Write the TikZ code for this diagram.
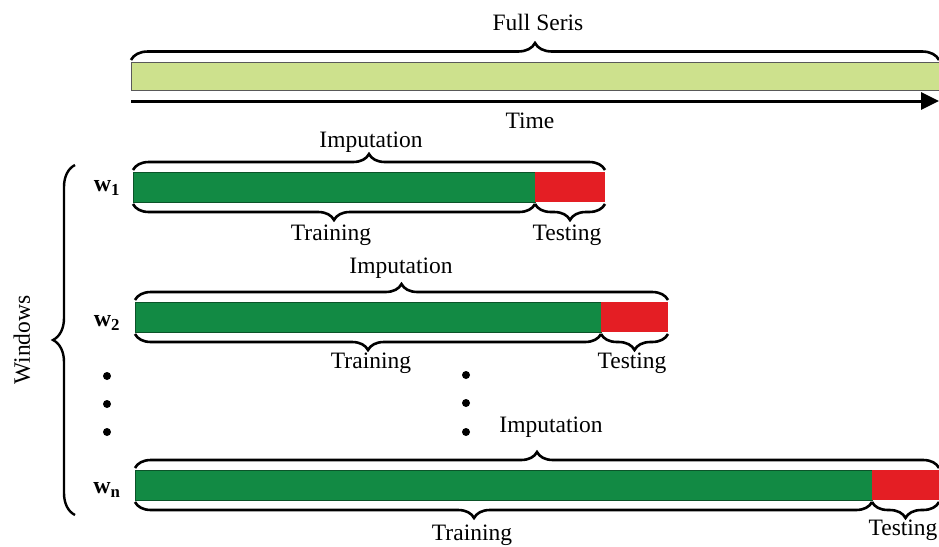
\documentclass[tikz,border=0pt]{standalone}
\usepackage{fontspec}
\setmainfont{Liberation Serif}
\usetikzlibrary{decorations.pathreplacing,arrows.meta}
\definecolor{lightbar}{RGB}{205,225,141}
\definecolor{trainbar}{RGB}{18,138,68}
\definecolor{testbar}{RGB}{228,30,36}
\begin{document}
\begin{tikzpicture}[x=1pt,y=-1pt,
  lbl/.style={font=\fontsize{23.5}{28}\selectfont, inner sep=0pt},
  wlbl/.style={font=\fontsize{24}{28}\selectfont\bfseries, inner sep=0pt},
  barbox/.style={rectangle, inner sep=0pt, outer sep=0pt, minimum height=30pt, anchor=north west},
  fullbox/.style={barbox, fill=lightbar, draw=gray!70!black, line width=0.8pt, minimum height=28pt},
  trainbox/.style={barbox, fill=trainbar, draw=trainbar!60!black, line width=0.8pt},
  testbox/.style={barbox, fill=testbar},
  brc/.style={decorate, decoration={brace, amplitude=16pt, raise=2pt}, line width=2.6pt},
  bigbrc/.style={decorate, decoration={brace, amplitude=22pt}, line width=2.4pt},
  dotnode/.style={circle, fill=black, inner sep=0pt, minimum size=8pt}
]
\useasboundingbox (0,0) rectangle (939,546);

% Full series
\node[fullbox, minimum width=808pt] (full) at (131,62) {};
\draw[brc, decoration={amplitude=17pt}] (full.north west) -- (full.north east);
\node[lbl] (fulltxt) at (538,22) {Full Seris};
\coordinate (tstart) at (131,101);
\coordinate (tend) at (939,101);
\draw[-{Triangle[length=18pt,width=17pt]}, line width=3pt] (tstart) -- (tend);
\node[lbl] (timetxt) at (530,121) {Time};

% Window 1
\node[trainbox, minimum width=402pt] (t1) at (133,172) {};
\node[testbox, minimum width=70pt] (s1) at (535,172) {};
\draw[brc] (t1.north west) -- (s1.north east);
\draw[brc] (t1.south east) -- (t1.south west);
\draw[brc] (s1.south east) -- (s1.south west);
\node[lbl] (imp1) at (371,142) {Imputation};
\node[lbl] (tr1) at (331,235) {Training};
\node[lbl] (te1) at (567,235) {Testing};
\node[wlbl] (w1) at (107,188) {w\textsubscript{1}};

% Window 2
\node[trainbox, minimum width=466pt] (t2) at (135,302) {};
\node[testbox, minimum width=67pt] (s2) at (601,302) {};
\draw[brc] (t2.north west) -- (s2.north east);
\draw[brc] (t2.south east) -- (t2.south west);
\draw[brc] (s2.south east) -- (s2.south west);
\node[lbl] (imp2) at (401,268) {Imputation};
\node[lbl] (tr2) at (371,363) {Training};
\node[lbl] (te2) at (632,363) {Testing};
\node[wlbl] (w2) at (107,323) {w\textsubscript{2}};

% Window n
\node[trainbox, minimum width=737pt] (tn) at (135,470) {};
\node[testbox, minimum width=67pt] (sn) at (872,470) {};
\draw[brc] (tn.north west) -- (sn.north east);
\draw[decorate, decoration={brace, mirror, amplitude=16pt, raise=2pt, aspect=0.46}, line width=2.6pt] (tn.south west) -- (tn.south east);
\draw[brc] (sn.south east) -- (sn.south west);
\node[lbl] (impn) at (551,427) {Imputation};
\node[lbl] (trn) at (472,535) {Training};
\node[lbl] (ten) at (903,530) {Testing};
\node[wlbl] (wn) at (107,490) {w\textsubscript{n}};

% dots
\node[dotnode] (d1) at (107,376) {};
\node[dotnode] (d2) at (107,404) {};
\node[dotnode] (d3) at (107,432) {};
\node[dotnode] (d4) at (466,375) {};
\node[dotnode] (d5) at (466,403) {};
\node[dotnode] (d6) at (466,432) {};

% Windows brace
\coordinate (wbot) at (75,515);
\coordinate (wtop) at (75,165);
\draw[bigbrc] (wbot) -- (wtop);
\node[lbl, rotate=90] (wintxt) at (22,340) {Windows};
\end{tikzpicture}
\end{document}
